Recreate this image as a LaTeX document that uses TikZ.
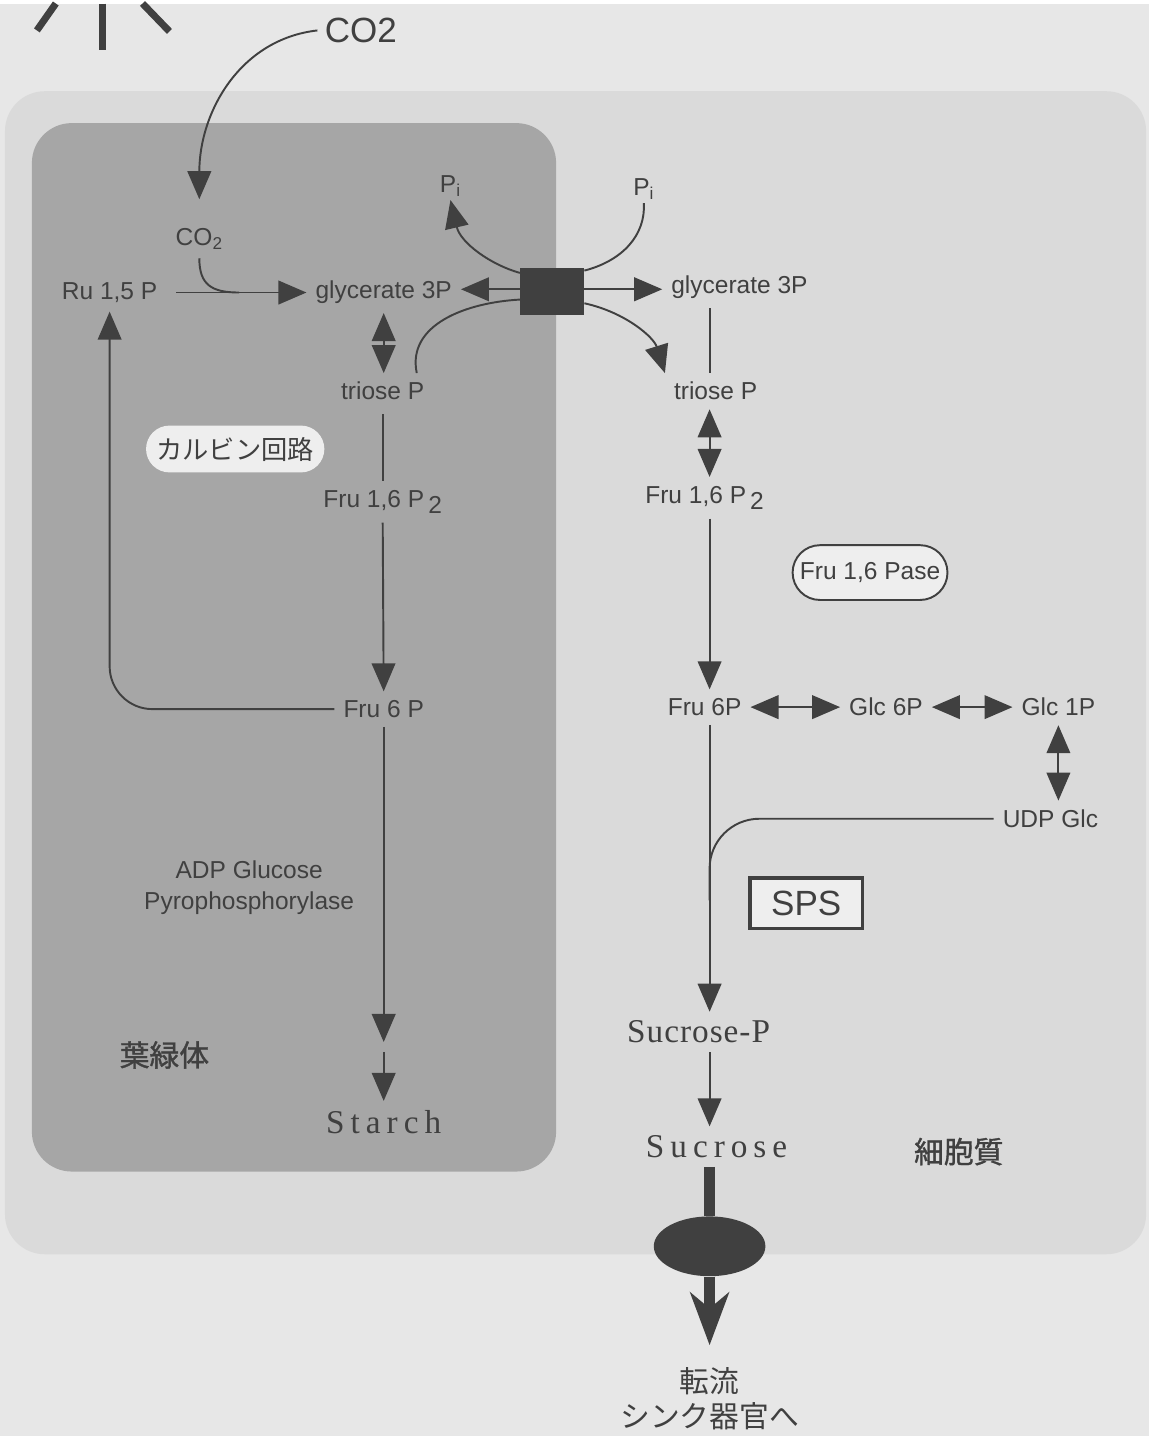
\documentclass[tikz,border=0pt]{standalone}
\usepackage{fontspec}
\setmainfont{Liberation Sans}
\newfontfamily\serifface[LetterSpace=3]{Liberation Serif}
\newfontfamily\spacedface[LetterSpace=18]{Liberation Serif}
\newfontfamily\jpfont{Noto Sans CJK JP}
\newfontfamily\jpbold[FakeBold=1.2]{Noto Sans CJK JP}
\usetikzlibrary{arrows.meta,shapes.geometric,shapes.misc}
\definecolor{pagegray}{RGB}{231,231,231}
\definecolor{cytogray}{RGB}{218,218,218}
\definecolor{chlorogray}{RGB}{166,166,166}
\definecolor{ink}{RGB}{64,64,64}
\definecolor{pillgray}{RGB}{238,238,238}

\begin{document}
\begin{tikzpicture}[x=0.02cm, y=-0.02cm,
    lbl/.style={text=ink, font=\fontsize{14}{17.6}\selectfont, inner sep=5pt},
    big/.style={text=ink, font=\fontsize{20}{24}\selectfont, inner sep=4pt},
    sugar/.style={text=ink, font=\serifface\fontsize{19}{22}\selectfont, inner sep=5pt},
    spaced/.style={text=ink, font=\spacedface\fontsize{19}{22}\selectfont, inner sep=5pt},
    jp/.style={text=ink, font=\jpfont\fontsize{17}{20}\selectfont, inner sep=4pt},
    line/.style={draw=ink, line width=1.1pt},
    flow/.style={line, -{Triangle[length=16pt,width=13.5pt]}},
    dbl/.style={line, {Triangle[length=16pt,width=13.5pt]}-{Triangle[length=16pt,width=13.5pt]}},
    ray/.style={draw=ink, line width=4pt}]

    % page, cytosol, chloroplast
    \fill[pagegray] (0,0) rectangle (1153,1437);
    \fill[cytogray, rounded corners=0.8cm] (5,88) rectangle (1150,1255);
    \fill[chlorogray, rounded corners=0.8cm] (32,120) rectangle (558,1172);

    % sun rays
    \draw[ray] (37,27) -- (56,0);
    \draw[ray] (103,0) -- (103,47);
    \draw[ray] (143,0) -- (170,28);

    % chloroplast side
    \node[big] (co2top) at (362,27) {CO2};
    \node[lbl] (co2in) at (200,236) {CO\textsubscript{2}};
    \node[lbl] (ru) at (110,290) {Ru 1,5 P};
    \node[lbl] (gly3l) at (385,290) {glycerate 3P};
    \node[lbl] (triosel) at (384,389) {triose P};
    \node[lbl] (frubpl) at (384,500) {Fru 1,6 P\,\raisebox{-0.5ex}{2}};
    \node[lbl] (fru6l) at (385,708) {Fru 6 P};
    \node[spaced] (starch) at (385,1122) {Starch};
    \node[jp, font=\jpfont\fontsize{15}{18}\selectfont, fill=pillgray, rounded rectangle, minimum height=0.94cm, minimum width=3.86cm] (calvin) at (236,447) {カルビン回路};
    \node[lbl, align=center] (adp) at (250,887) {ADP Glucose\\Pyrophosphorylase};
    \node[jp, font=\jpbold\fontsize{17}{20}\selectfont] (yoryoku) at (165,1055) {葉緑体};

    % translocator
    \node[fill=ink, minimum width=1.28cm, minimum height=0.96cm, inner sep=0pt] (tp) at (554,289) {};
    \node[lbl, inner sep=2pt] (pil) at (452,183) {P\textsubscript{i}};
    \node[lbl, inner sep=2pt] (pir) at (646,186) {P\textsubscript{i}};

    % cytosol side
    \coordinate (colR) at (712,0);
    \node[lbl] (gly3r) at (742,285) {glycerate 3P};
    \node[lbl] (trioser) at (718,389) {triose P};
    \node[lbl] (frubpr) at (707,496) {Fru 1,6 P\,\raisebox{-0.5ex}{2}};
    \node[lbl, draw=ink, line width=1.1pt, fill=pillgray, rounded rectangle, minimum height=1.1cm, minimum width=3.46cm] (pase) at (873,571) {Fru 1,6 Pase};
    \node[lbl] (fru6r) at (707,706) {Fru 6P};
    \node[lbl] (glc6) at (889,706) {Glc 6P};
    \node[lbl] (glc1) at (1062,706) {Glc 1P};
    \node[lbl] (udp) at (1054,818) {UDP Glc};
    \node[big, draw=ink, line width=1.8pt, fill=pillgray, minimum width=2.26cm, minimum height=1.02cm] (sps) at (809,903) {SPS};
    \node[sugar] (sucp) at (701,1032) {Sucrose-P};
    \node[spaced] (suc) at (719,1147) {Sucrose};
    \node[jp, font=\jpbold\fontsize{17}{20}\selectfont] (saibo) at (962,1152) {細胞質};
    \node[fill=ink, ellipse, minimum width=2.24cm, minimum height=1.2cm, inner sep=0pt] (carrier) at (712,1247) {};
    \node[jp, align=center, font=\jpfont\fontsize{17}{20}\selectfont] (tenryu) at (712,1400) {転流\\シンク器官へ};

    % Calvin cycle
    \draw[flow, shorten >=0.4cm] (co2top.west) .. controls (240,36) and (200,110) .. (co2in.north);
    \coordinate (fix) at (240,290);
    \draw[line] (co2in.south) .. controls (200,282) and (212,290) .. (fix);
    \draw[flow, shorten <=0.2cm] (ru.east) -- (gly3l.west);
    \draw[dbl] (gly3l.south) -- (gly3l.south |- triosel.north);
    \draw[line, shorten <=0.1cm] (triosel.south) -- (frubpl.north);
    \draw[flow] (frubpl.south) -- (fru6l.north);
    \draw[flow, rounded corners=0.86cm] (fru6l.west) -| (ru.south);
    \coordinate (brk1) at (385,1042);
    \coordinate (brk2) at (385,1052);
    \draw[flow] (fru6l.south) -- (brk1);
    \draw[flow] (brk2) -- (starch.north);

    % exchange at the envelope
    \draw[flow] (tp.176) -- (tp.176 -| gly3l.east);
    \draw[line] (triosel.28) .. controls (408,322) and (468,300) .. (tp.194);
    \draw[flow] (tp.150) .. controls (492,262) and (462,240) .. (pil.south);
    \draw[line] (tp.33) .. controls (625,258) and (648,232) .. (pir.south);
    \draw[flow] (tp.4) -- (tp.4 -| gly3r.west);
    \draw[flow] (tp.-20) .. controls (628,310) and (656,335) .. (trioser.north west);

    % sucrose synthesis
    \draw[line] (gly3r.south -| colR) -- (trioser.north -| colR);
    \draw[dbl] (trioser.south -| colR) -- (frubpr.north -| colR);
    \draw[flow] (frubpr.south -| colR) -- (fru6r.north -| colR);
    \draw[dbl] (fru6r) -- (glc6);
    \draw[dbl] (glc6) -- (glc1);
    \draw[dbl] (glc1.south) -- (glc1.south |- udp.north);
    \draw[flow] (fru6r.south -| colR) -- (sucp.north -| colR);
    \coordinate (udpjoin) at (712,900);
    \draw[line, rounded corners=1cm] (udp.west) -| (udpjoin);
    \draw[flow] (sucp.south -| colR) -- (suc.north -| colR);
    \draw[draw=ink, line width=6pt] (suc.south -| colR) -- (carrier);
    \draw[draw=ink, line width=6pt, -{Stealth[length=30pt,width=22pt,inset=9pt]}, shorten >=0.3cm] (carrier) -- (tenryu.north -| colR);
\end{tikzpicture}
\end{document}
